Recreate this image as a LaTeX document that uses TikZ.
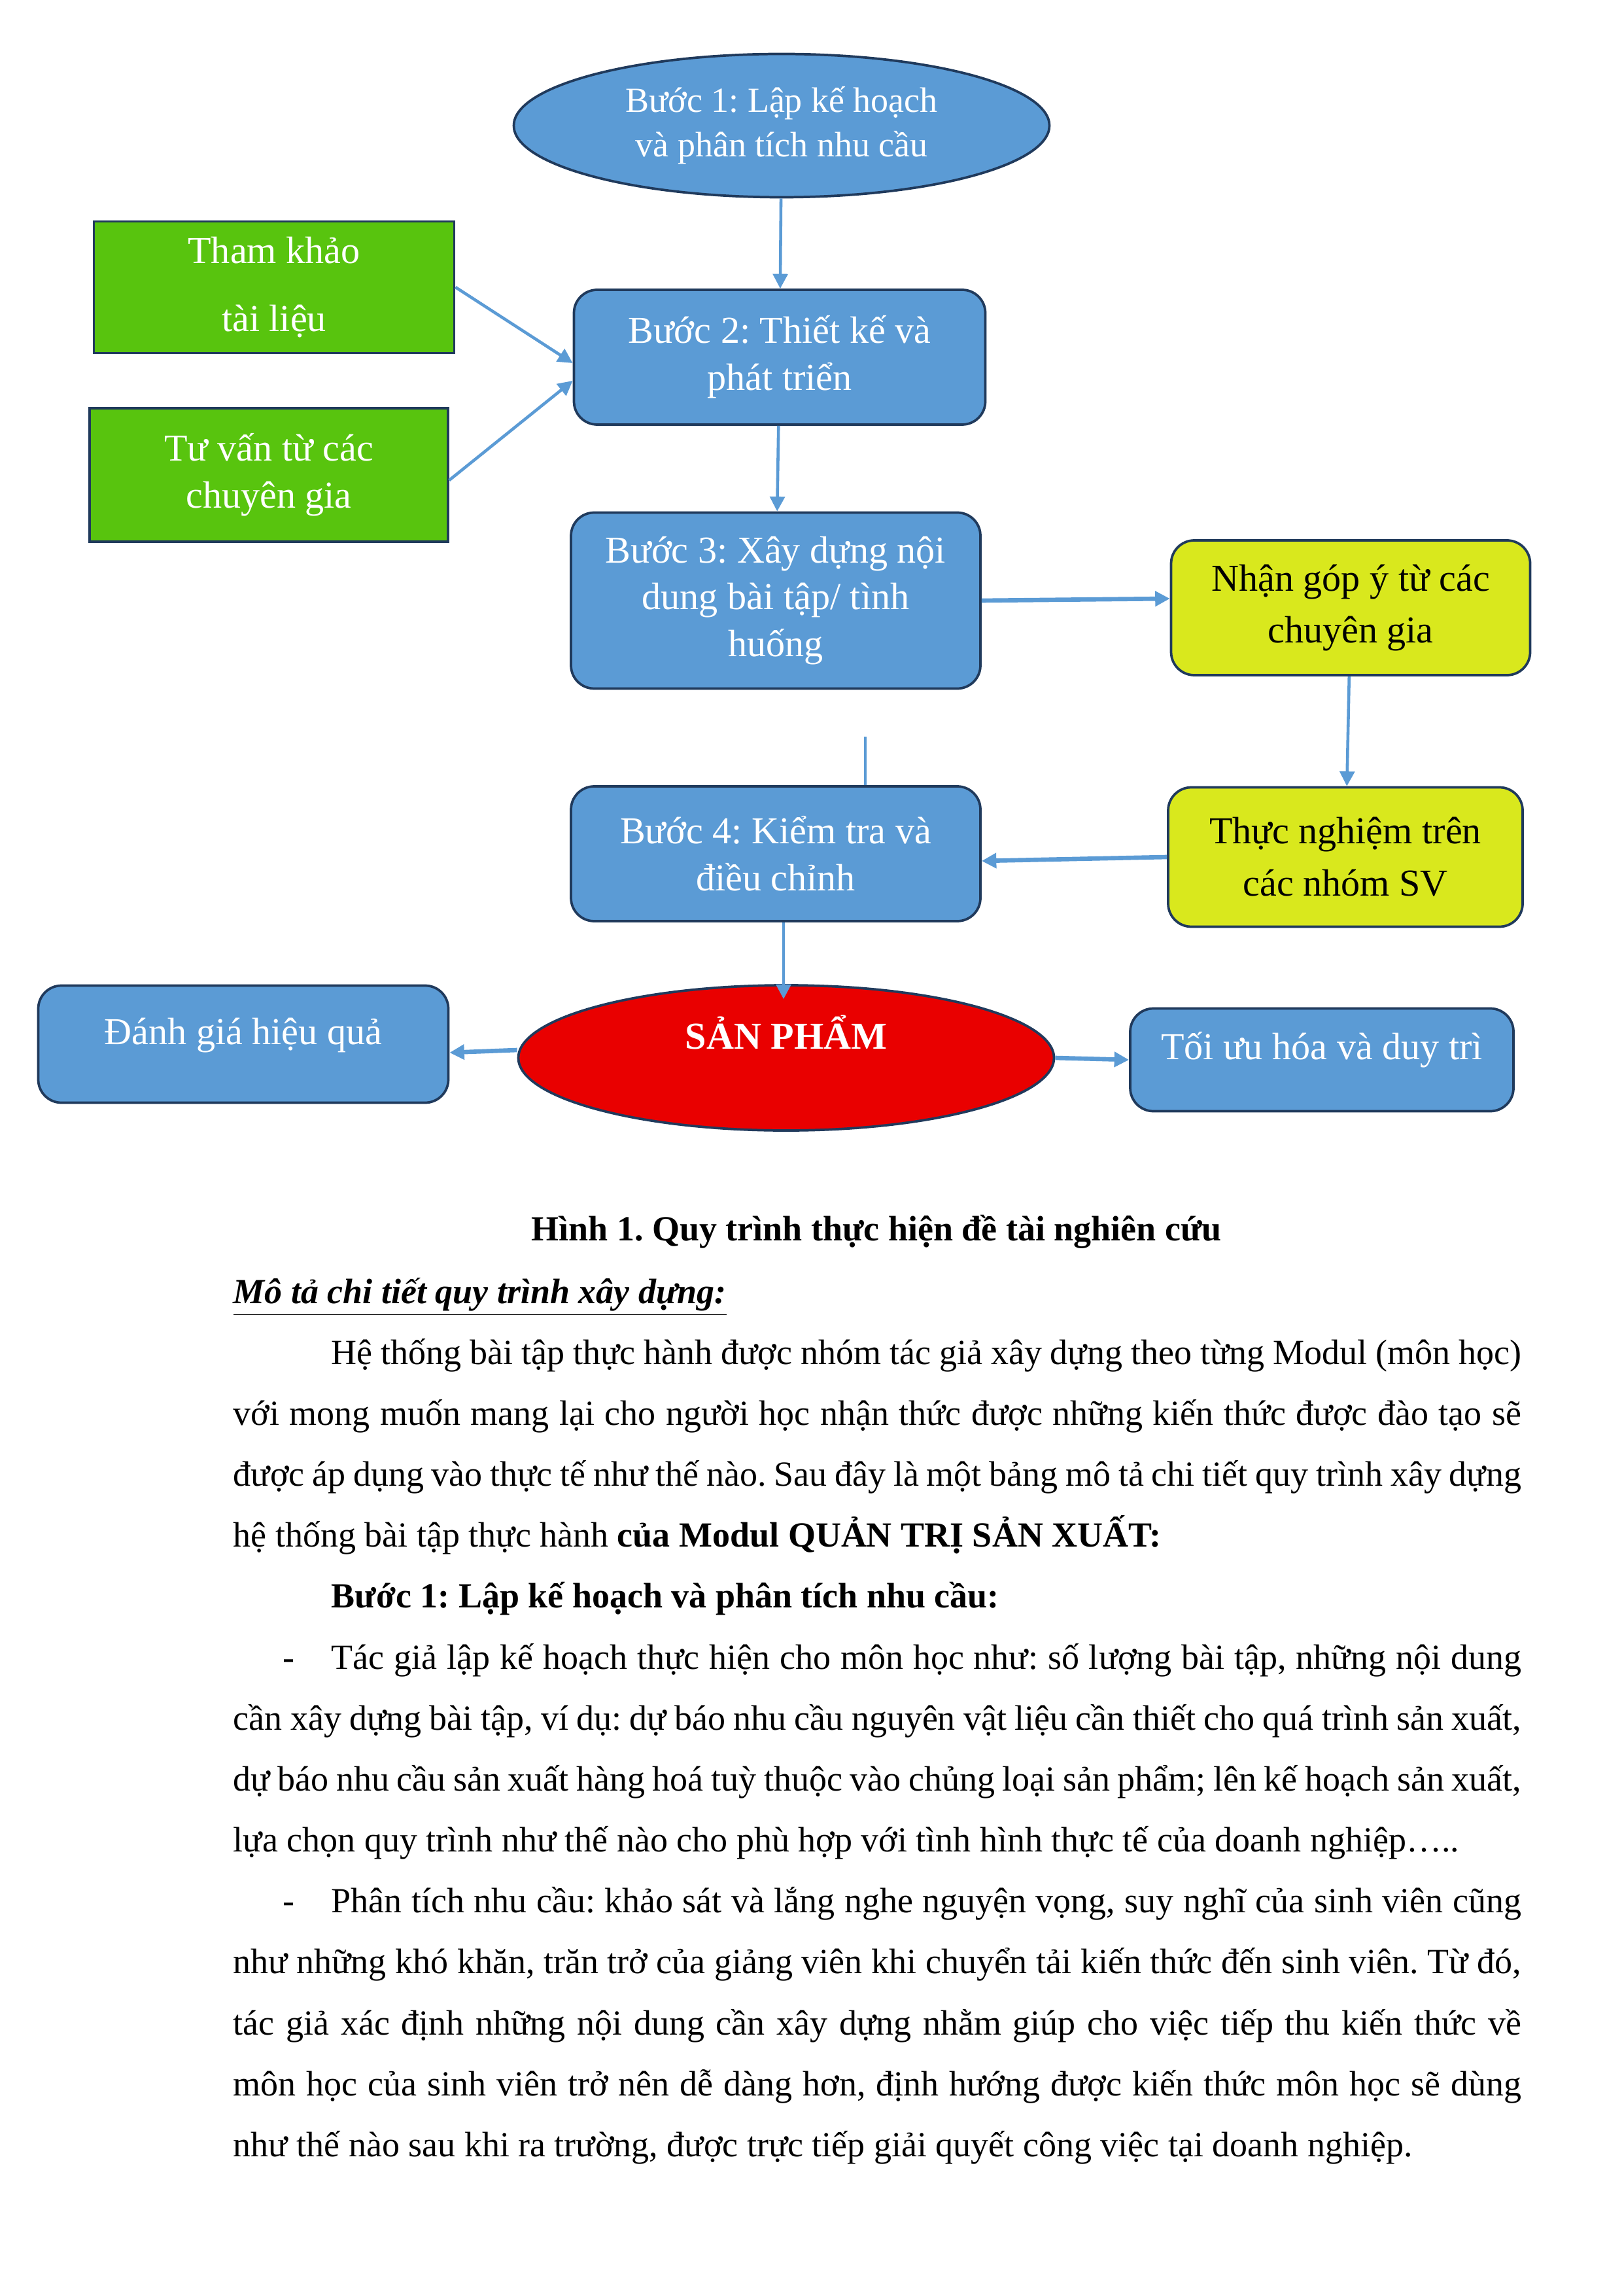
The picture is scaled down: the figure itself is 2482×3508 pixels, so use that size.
\documentclass[tikz,border=0pt]{standalone}
\usepackage{fontspec}
\setmainfont{Liberation Serif}
\usepackage{xcolor}
\usepackage{tikz}
\usetikzlibrary{shapes.geometric, arrows.meta, calc}
\definecolor{stepblue}{HTML}{5B9BD5}
\definecolor{outline}{HTML}{203A5C}
\definecolor{refgreen}{HTML}{58C40E}
\definecolor{noteyellow}{HTML}{D9E81D}
\definecolor{productred}{HTML}{E90000}
\definecolor{link}{HTML}{5B9BD5}
\newlength{\px}
\setlength{\px}{0.084609mm}
\newcommand{\dashitem}{\makebox[12.7mm][l]{\hspace*{6.4mm}-}}
\frenchspacing

\begin{document}
\begin{tikzpicture}[x=0.084609mm, y=-0.084609mm,
    stepbox/.style={rectangle, rounded corners=3mm, draw=outline, fill=stepblue,
                    text=white, line width=0.9pt, align=center, inner sep=0pt,
                    font=\fontsize{14}{17.3}\selectfont},
    refbox/.style={rectangle, draw=outline, fill=refgreen, text=white,
                   line width=0.9pt, align=center, inner sep=0pt,
                   font=\fontsize{14}{17.3}\selectfont},
    notebox/.style={stepbox, fill=noteyellow, text=black,
                    font=\fontsize{14}{19.2}\selectfont},
    oval/.style={ellipse, draw=outline, line width=0.9pt, align=center, inner sep=0pt},
    arr/.style={-{Triangle[length=1.9mm, width=1.9mm]}, line width=1.1pt, draw=link},
    arrthick/.style={arr, line width=1.6pt},
    wire/.style={line width=1.1pt, draw=link},
    body/.style={text width=166.6mm, align=justify, inner sep=0pt,
                 font=\fontsize{13}{22.43}\selectfont}
]
\fill[white] (0,0) rectangle (2482,3508);

% diagram
\node[oval, fill=stepblue, text=white, font=\fontsize{13}{16.3}\selectfont,
      minimum width=819\px, minimum height=219\px] (b1) at (1195,192) {Bước 1: Lập kế hoạch\\và phân tích nhu cầu};
\node[refbox, minimum width=551\px, minimum height=201\px] (tk) at (419,439) {Tham khảo\\[7.9pt]tài liệu};
\node[refbox, minimum width=548\px, minimum height=204\px] (tv) at (411,726) {Tư vấn từ các\\chuyên gia};
\node[stepbox, minimum width=629\px, minimum height=206\px] (b2) at (1192,546) {Bước 2: Thiết kế và\\phát triển};
\node[stepbox, minimum width=626\px, minimum height=269\px] (b3) at (1186,918) {Bước 3: Xây dựng nội\\dung bài tập/ tình\\huống};
\node[notebox, minimum width=549\px, minimum height=206\px] (ng) at (2065,929) {Nhận góp ý từ các\\chuyên gia};
\node[notebox, minimum width=542\px, minimum height=213\px] (tn) at (2057,1310) {Thực nghiệm trên\\các nhóm SV};
\node[stepbox, minimum width=626\px, minimum height=206\px] (b4) at (1186,1305) {Bước 4: Kiểm tra và\\điều chỉnh};
\node[oval, fill=productred, text=white, font=\fontsize{14}{17}\selectfont\bfseries,
      text height=10pt, text depth=16.4pt,
      minimum width=819\px, minimum height=222\px] (sp) at (1202,1617) {SẢN PHẨM};
\node[stepbox, text height=10pt, text depth=9.8pt,
      minimum width=627\px, minimum height=179\px] (dg) at (372,1596) {Đánh giá hiệu quả};
\node[stepbox, text height=10pt, text depth=10.2pt,
      minimum width=586\px, minimum height=157\px] (tu) at (2021,1620) {Tối ưu hóa và duy trì};

\draw[arr] (b1) -- (b2);
\draw[arr] (tk.east) -- ($(b2.west)+(0,9)$);
\draw[arr] ($(tv.east)+(0,8)$) -- ($(b2.west)+(0,36)$);
\draw[arr] (b2) -- (b3);
\draw[arrthick] (b3.east) -- ($(ng.west)+(0,-14)$);
\draw[arr] (ng) -- (tn);
\draw[arrthick] (tn.west) -- ($(b4.east)+(0,11)$);
\coordinate (cut) at (1323,1126);
\draw[wire] (cut) -- (cut |- b4.north);
\draw[arr] ($(b4.south)+(12,0)$) -- ($(sp.north)+(-4,23)$);
\draw[arrthick] ($(sp.west)+(0,-12)$) -- ($(dg.east)+(0,13)$);
\draw[arrthick] (sp.east) -- (tu.west);

% caption and text
\node[font=\fontsize{13}{16}\selectfont\bfseries] (cap) at (1340,1883) {Hình 1. Quy trình thực hiện đề tài nghiên cứu};
\node[body, anchor=base west] (desc) at (356,1992) {\hyphenpenalty=10000 \tolerance=9999
\underline{\textbf{\textit{Mô tả chi tiết quy trình xây dựng:}}}\par
\hspace*{12.7mm}Hệ thống bài tập thực hành được nhóm tác giả xây dựng theo từng Modul (môn học)\linebreak
với mong muốn mang lại cho người học nhận thức được những kiến thức được đào tạo sẽ\linebreak
được áp dụng vào thực tế như thế nào. Sau đây là một bảng mô tả chi tiết quy trình xây dựng\linebreak
hệ thống bài tập thực hành \textbf{của Modul QUẢN TRỊ SẢN XUẤT:}\par
\hspace*{12.7mm}\textbf{Bước 1: Lập kế hoạch và phân tích nhu cầu:}\par
\dashitem Tác giả lập kế hoạch thực hiện cho môn học như: số lượng bài tập, những nội dung\linebreak
cần xây dựng bài tập, ví dụ: dự báo nhu cầu nguyên vật liệu cần thiết cho quá trình sản xuất,\linebreak
dự báo nhu cầu sản xuất hàng hoá tuỳ thuộc vào chủng loại sản phẩm; lên kế hoạch sản xuất,\linebreak
lựa chọn quy trình như thế nào cho phù hợp với tình hình thực tế của doanh nghiệp…..\par
\dashitem Phân tích nhu cầu: khảo sát và lắng nghe nguyện vọng, suy nghĩ của sinh viên cũng\linebreak
như những khó khăn, trăn trở của giảng viên khi chuyển tải kiến thức đến sinh viên. Từ đó,\linebreak
tác giả xác định những nội dung cần xây dựng nhằm giúp cho việc tiếp thu kiến thức về\linebreak
môn học của sinh viên trở nên dễ dàng hơn, định hướng được kiến thức môn học sẽ dùng\linebreak
như thế nào sau khi ra trường, được trực tiếp giải quyết công việc tại doanh nghiệp.};
\end{tikzpicture}
\end{document}
